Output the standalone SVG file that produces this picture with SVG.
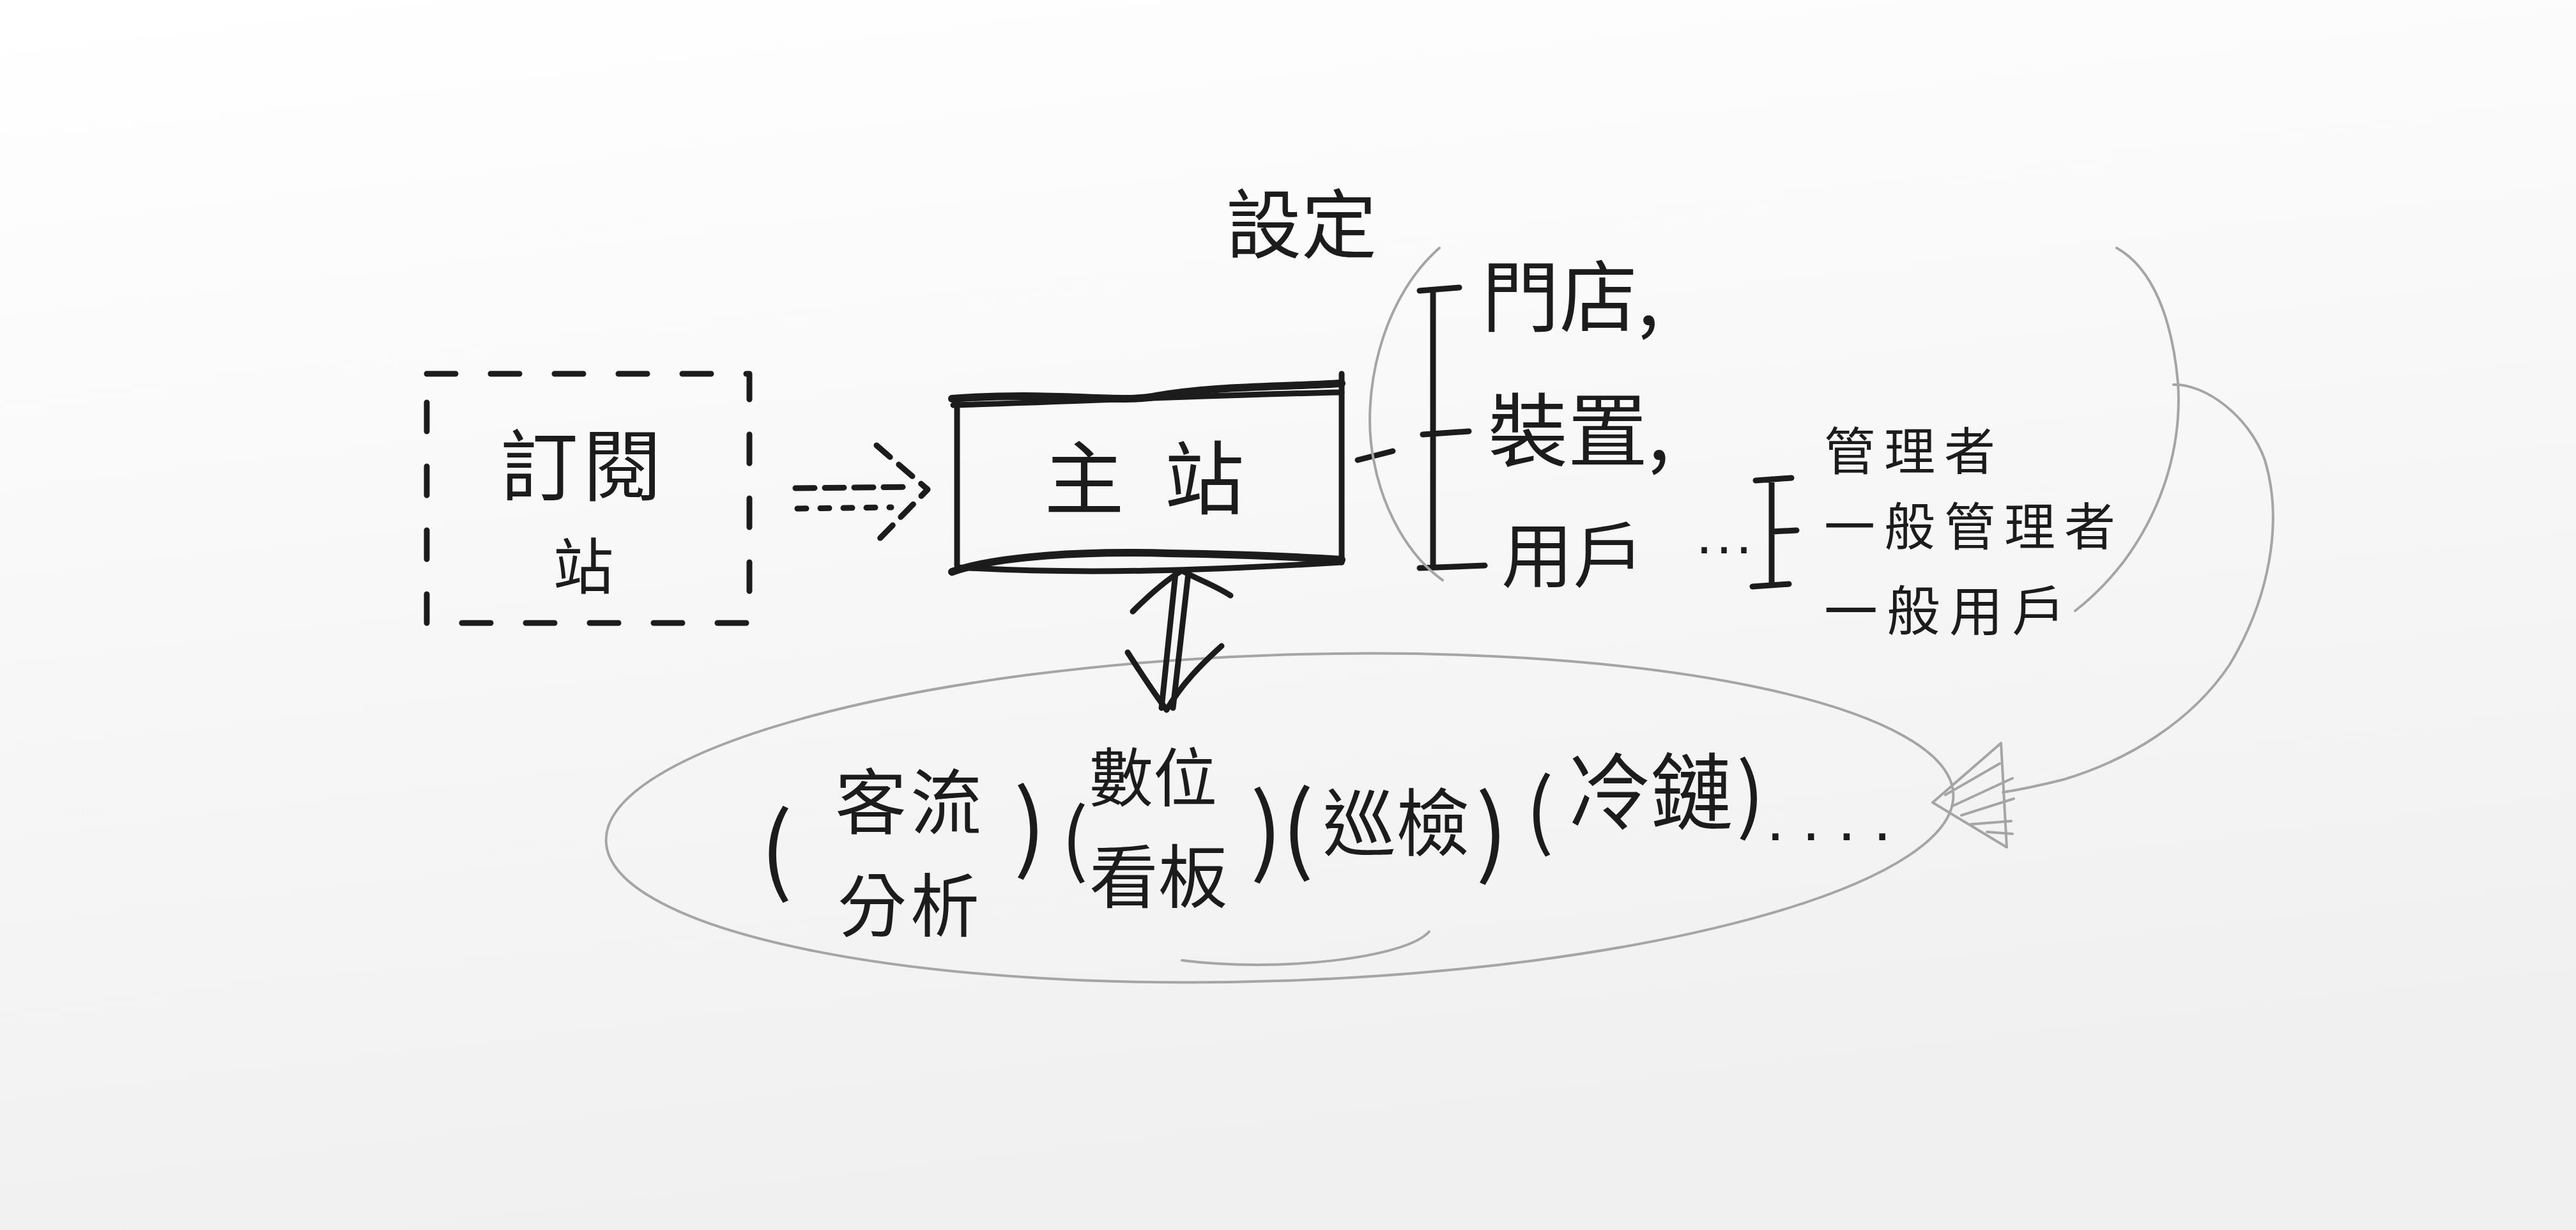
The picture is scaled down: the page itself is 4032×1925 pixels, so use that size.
<svg xmlns="http://www.w3.org/2000/svg" width="4032" height="1925" viewBox="0 0 4032 1925">
<defs>
<linearGradient id="bg" x1="0" y1="0" x2="0.25" y2="1">
<stop offset="0" stop-color="#ffffff"/><stop offset="1" stop-color="#f0f0f0"/>
</linearGradient>
</defs>
<style>
.ink{fill:none;stroke:#1c1c1c;stroke-width:9;stroke-linecap:round;stroke-linejoin:round}
.thick{stroke-width:12}
.dash{stroke-dasharray:45 55}
.pencil{fill:none;stroke:#a5a5a5;stroke-width:4;stroke-linecap:round;stroke-linejoin:round}
.t{font-family:"Noto Sans CJK TC","Noto Sans CJK SC",sans-serif;fill:#1c1c1c;dominant-baseline:central}
.c{text-anchor:middle}
</style>
<rect x="0" y="0" width="4032" height="1925" fill="url(#bg)"/>

<g id="subscription-site">
<rect class="ink dash" x="668" y="585" width="505" height="390" stroke-width="10"/>
<text class="t c" x="913" y="720" font-size="122" letter-spacing="8">訂閱</text>
<text class="t c" x="913" y="880" font-size="95">站</text>
</g>

<g id="main-site">
<path class="ink thick" d="M1490,624 C1650,612 1750,632 1810,620 C1900,604 2000,606 2100,600"/>
<path class="ink" d="M1492,634 C1700,628 1900,618 2100,614"/>
<path class="ink" d="M1498,630 L1498,885"/>
<path class="ink" d="M2100,585 L2100,880"/>
<path class="ink thick" d="M1490,895 C1560,870 1700,862 1830,866 C1950,868 2040,872 2100,876"/>
<path class="ink" d="M1500,888 C1700,900 1900,892 2100,880"/>
<text class="t" x="1697 1885" y="740" font-size="125" text-anchor="middle">主站</text>
</g>

<g id="settings-label">
<text class="t c" x="2037" y="343" font-size="118">設定</text>
</g>

<g id="settings-list">
<text class="t" x="2319" y="455" font-size="122">門店,</text>
<text class="t" x="2329" y="665" font-size="125">裝置,</text>
<text class="t" x="2350" y="862" font-size="112">用戶</text>
<text x="2655" y="866" font-family="Liberation Sans, sans-serif" font-size="90" letter-spacing="6" fill="#1c1c1c">...</text>
</g>

<g id="roles-list">
<text class="t" x="2855" y="700" font-size="80" letter-spacing="14">管理者</text>
<text class="t" x="2855" y="818" font-size="80" letter-spacing="14">一般管理者</text>
<text class="t" x="2855" y="950" font-size="84" letter-spacing="14">一般用戶</text>
</g>

<g id="modules">
<ellipse class="pencil" cx="2003" cy="1280" rx="1055" ry="255" transform="rotate(-2 2003 1280)"/>
<path class="pencil" d="M2237,1458 C2200,1500 2000,1522 1850,1503"/>
<text class="t c" x="1215" y="1318" font-size="150">(</text>
<text class="t c" x="1425" y="1248" font-size="112" letter-spacing="6">客流</text>
<text class="t c" x="1425" y="1410" font-size="108" letter-spacing="6">分析</text>
<text class="t c" x="1612" y="1282" font-size="150">)</text>
<text class="t c" x="1682" y="1303" font-size="125">(</text>
<text class="t c" x="1805" y="1210" font-size="100">數位</text>
<text class="t c" x="1813" y="1365" font-size="108">看板</text>
<text class="t c" x="1982" y="1288" font-size="150">)</text>
<text class="t c" x="2031" y="1285" font-size="150">(</text>
<text class="t c" x="2185" y="1280" font-size="115">巡檢</text>
<text class="t c" x="2335" y="1290" font-size="150">)</text>
<text class="t c" x="2410" y="1258" font-size="130">(</text>
<text class="t c" x="2583" y="1230" font-size="130">冷鏈</text>
<text class="t c" x="2740" y="1233" font-size="130">)</text>
<text x="2765" y="1315" font-family="Liberation Sans, sans-serif" font-size="100" letter-spacing="28" fill="#1c1c1c">....</text>
</g>

<g id="connectors">
<path class="ink" d="M1245,764 L1425,762" stroke-dasharray="30 16"/>
<path class="ink" d="M1248,796 L1395,794" stroke-dasharray="14 22"/>
<path class="ink" d="M1372,697 L1452,766 L1368,852" stroke-dasharray="28 18"/>
<path class="ink" d="M1840,897 L1818,1108"/>
<path class="ink" d="M1860,897 L1836,1108"/>
<path class="ink" d="M1773,957 C1800,930 1830,905 1850,893 C1870,905 1900,915 1926,932"/>
<path class="ink" d="M1765,1021 C1790,1060 1810,1090 1826,1111 C1850,1070 1880,1040 1912,1011"/>
<path class="ink" d="M2125,720 L2180,706"/>
<path class="ink" d="M2243,454 L2243,888 M2222,455 L2284,450 M2227,680 L2299,675 M2222,889 L2324,885"/>
<path class="ink" d="M2773,750 L2773,916 M2748,752 L2804,748 M2773,832 L2812,830 M2743,918 L2800,914"/>
<path class="pencil" d="M2253,388 C2160,470 2130,620 2150,720 C2165,800 2205,870 2258,908"/>
<path class="pencil" d="M3313,388 C3370,420 3400,500 3409,599 C3415,690 3390,790 3324,879 C3300,910 3275,935 3248,956"/>
<path class="pencil" d="M3402,602 C3450,600 3520,650 3545,720 C3575,820 3550,940 3490,1040 C3430,1130 3330,1190 3230,1220 C3190,1230 3160,1236 3135,1240"/>
<path class="pencil" d="M3132,1163 L3025,1256 L3141,1326 Z"/>
<path class="pencil" d="M3045,1244 L3130,1195 M3055,1262 L3150,1218 M3070,1276 L3152,1250 M3085,1290 L3148,1285 M3110,1302 L3150,1305"/>
</g>
</svg>
